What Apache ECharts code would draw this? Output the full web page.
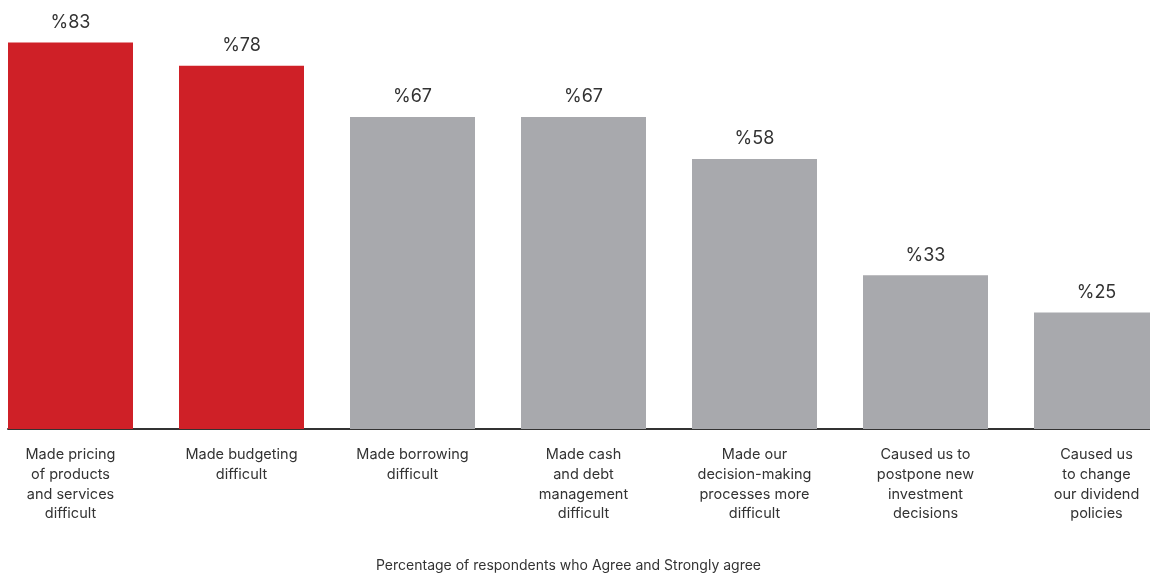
<!DOCTYPE html>
<html>
<head>
<meta charset="utf-8">
<script src="https://cdn.jsdelivr.net/npm/echarts@6/dist/echarts.min.js"></script>
<style>
html,body{margin:0;padding:0;background:#fff;}
#chart{width:1150px;height:576px;}
</style>
</head>
<body>
<div id="chart"></div>
<script>
var categories = [
  "Made pricing\nof products\nand services\ndifficult",
  "Made budgeting\ndifficult",
  "Made borrowing\ndifficult",
  "Made cash\nand debt\nmanagement\ndifficult",
  "Made our\ndecision-making\nprocesses more\ndifficult",
  "Caused us to\npostpone new\ninvestment\ndecisions",
  "Caused us\nto change\nour dividend\npolicies"
];
var values = [83, 78, 67, 67, 58, 33, 25];
var highlighted = [true, true, false, false, false, false, false];
var axisTitle = "Percentage of respondents who Agree and Strongly agree";

var RED = "#CF2027", GRAY = "#A8A9AD", TEXT = "#333333";
var FONT = "Inter, 'Noto Sans', sans-serif";

var chart = echarts.init(document.getElementById('chart'), null, {renderer: 'canvas'});
chart.setOption({
  animation: false,
  title: {
    text: axisTitle,
    left: 371, top: 554,
    textStyle: {fontFamily: FONT, fontSize: 14, fontWeight: 'normal', color: TEXT}
  },
  grid: [
    {left: 70.5, right: 53.5, top: 10, bottom: 147},
    {left: 8, right: 0, top: 10, bottom: 147}
  ],
  xAxis: [
    {
      type: 'category', gridIndex: 0, data: categories, boundaryGap: false,
      axisLine: {show: false}, axisTick: {show: false}, splitLine: {show: false},
      axisLabel: {
        interval: 0, margin: 16, fontFamily: FONT, fontSize: 14.5,
        lineHeight: 19.7, color: TEXT, align: 'center'
      }
    },
    {
      type: 'value', gridIndex: 1, min: 0, max: 1,
      axisLine: {show: true, onZero: false, lineStyle: {color: '#333', width: 2}},
      axisTick: {show: false}, axisLabel: {show: false}, splitLine: {show: false}
    }
  ],
  yAxis: [
    {type: 'value', gridIndex: 0, min: 0, max: 90, show: false, splitLine: {show: false}},
    {type: 'value', gridIndex: 1, min: 0, max: 1, show: false, splitLine: {show: false}}
  ],
  series: [{
    type: 'bar', xAxisIndex: 0, yAxisIndex: 0,
    barWidth: 125, clip: false,
    data: values.map(function (v, i) {
      return {value: v, itemStyle: {color: highlighted[i] ? RED : GRAY}};
    }),
    label: {
      show: true, position: 'top', distance: 11,
      formatter: function (p) { return '%' + p.value; },
      fontFamily: FONT, fontSize: 18, color: TEXT
    }
  }]
});
</script>
</body>
</html>
